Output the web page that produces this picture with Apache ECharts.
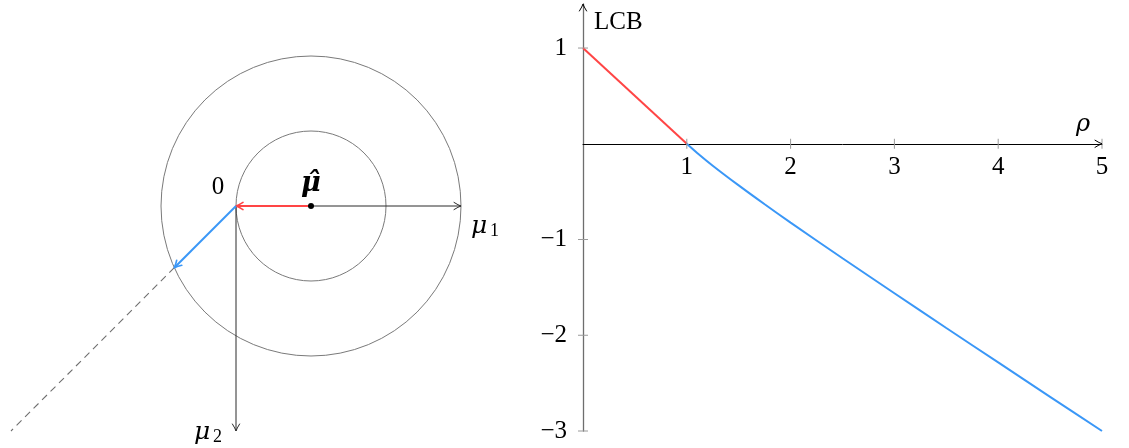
<!DOCTYPE html>
<html>
<head>
<meta charset="utf-8">
<script src="https://cdn.jsdelivr.net/npm/echarts@6/dist/echarts.min.js"></script>
<style>
  html, body { margin: 0; padding: 0; background: #fff; }
  #chart { width: 1129px; height: 448px; }
</style>
</head>
<body>
<div id="chart"></div>
<script>
// ---- LCB as a function of rho ----
const rhoRed = [0, 1];
const lcbRed = [1, 0];
const rhoBlue = [1, 1.1, 1.25, 1.5, 1.75, 2, 2.5, 3, 3.5, 4, 4.5, 5];
const lcbBlue = [0, -0.096, -0.229, -0.435, -0.632, -0.823, -1.196, -1.561, -1.924, -2.284, -2.643, -3.0];
const xTickValues = [1, 2, 3, 4, 5];
const yTickValues = [-3, -2, -1, 1];

// ---- mean-space sketch (mu1 to the right, mu2 downwards) ----
const origin = [0, 0];
const muHat = [1, 0];
const innerRadius = 1;
const outerRadius = 2;
const mu1AxisEnd = [3, 0];
const mu2AxisEnd = [0, 3];
const blueTip = [-0.823, 0.823];
const dashEnd = [-3, 3];

const FONT = "'Liberation Serif', 'DejaVu Serif', serif";
const GREEK = "'DejaVu Serif', serif";
const RED = '#ff4545';
const BLUE = '#3a97f7';
const GRAY = '#7a7a7a';
const DARK = '#2b2b2b';

const minus = v => (v < 0 ? '\u2212' + (-v) : String(v));

// open LaTeX-like arrow tip at `tip`, pointing away from `from`
function arrowHead(tip, from, color, lw, len, half) {
  len = len || 7; half = half || 3.6;
  const dx = tip[0] - from[0], dy = tip[1] - from[1];
  const L = Math.hypot(dx, dy) || 1;
  const ux = dx / L, uy = dy / L, px = -uy, py = ux;
  const b1 = [tip[0] - ux * len + px * half, tip[1] - uy * len + py * half];
  const b2 = [tip[0] - ux * len - px * half, tip[1] - uy * len - py * half];
  const c1 = [tip[0] - ux * len * 0.35 + px * half * 0.2, tip[1] - uy * len * 0.35 + py * half * 0.2];
  const c2 = [tip[0] - ux * len * 0.35 - px * half * 0.2, tip[1] - uy * len * 0.35 - py * half * 0.2];
  return {
    type: 'path',
    shape: {
      pathData: `M${b1[0]},${b1[1]} Q${c1[0]},${c1[1]} ${tip[0]},${tip[1]} Q${c2[0]},${c2[1]} ${b2[0]},${b2[1]}`
    },
    style: { stroke: color, lineWidth: lw, fill: null, lineCap: 'round', lineJoin: 'round' }
  };
}

function seg(a, b, color, lw, dash) {
  return {
    type: 'line',
    shape: { x1: a[0], y1: a[1], x2: b[0], y2: b[1] },
    style: { stroke: color, lineWidth: lw, lineDash: dash || null }
  };
}

function txt(x, y, s, size, opts) {
  opts = opts || {};
  return {
    type: 'text',
    x: x, y: y,
    style: {
      text: s,
      font: `${opts.style || 'normal'} ${opts.weight || 'normal'} ${size}px ${opts.family || FONT}`,
      fill: '#000',
      align: opts.align || 'center',
      verticalAlign: opts.valign || 'middle'
    }
  };
}

function renderSketch(params, api) {
  const o = api.coord(origin);
  const m = api.coord(muHat);
  const e1 = api.coord(mu1AxisEnd);
  const e2 = api.coord(mu2AxisEnd);
  const bt = api.coord(blueTip);
  const de = api.coord(dashEnd);
  const rIn = api.size([innerRadius, 0])[0];
  const rOut = api.size([outerRadius, 0])[0];
  return {
    type: 'group',
    children: [
      { type: 'circle', shape: { cx: m[0], cy: m[1], r: rIn }, style: { stroke: GRAY, lineWidth: 1, fill: null } },
      { type: 'circle', shape: { cx: m[0], cy: m[1], r: rOut }, style: { stroke: GRAY, lineWidth: 1, fill: null } },
      seg(bt, de, '#6f6f6f', 1.1, [7, 5]),
      seg(o, e1, DARK, 1),
      arrowHead(e1, o, DARK, 1),
      seg(o, e2, DARK, 1),
      arrowHead(e2, o, DARK, 1),
      seg(m, o, RED, 2),
      arrowHead(o, m, RED, 1.6),
      seg(o, bt, BLUE, 2),
      arrowHead(bt, o, BLUE, 1.6),
      { type: 'circle', shape: { cx: m[0], cy: m[1], r: 3 }, style: { fill: '#000' } },
      txt(o[0] - 18, o[1] - 19, '0', 25),
      txt(m[0], m[1] - 22, '\u03bc\u0302', 27, { style: 'italic', weight: 'bold', family: GREEK }),
      txt(e1[0] + 10, e1[1] + 20, '\u03bc', 25, { style: 'italic', align: 'left', family: GREEK }),
      txt(e1[0] + 29, e1[1] + 25, '1', 18, { align: 'left' }),
      txt(e2[0] - 42, e2[1] + 1, '\u03bc', 25, { style: 'italic', align: 'left', family: GREEK }),
      txt(e2[0] - 23, e2[1] + 6, '2', 18, { align: 'left' })
    ]
  };
}

function renderPlotDecor(params, api) {
  const children = [];
  xTickValues.forEach(v => {
    const p = api.coord([v, 0]);
    children.push(seg([p[0], p[1] - 5], [p[0], p[1] + 5], '#9a9a9a', 1));
    children.push(txt(p[0], p[1] + 24, minus(v), 25));
  });
  yTickValues.forEach(v => {
    const p = api.coord([0, v]);
    children.push(seg([p[0] - 5, p[1]], [p[0] + 5, p[1]], '#9a9a9a', 1));
  });
  const xEnd = api.coord([5, 0]);
  const x0 = api.coord([0, 0]);
  const yTop = api.coord([0, 1.46]);
  children.push(arrowHead(xEnd, x0, '#000', 1));
  children.push(arrowHead(yTop, x0, '#000', 1));
  children.push(txt(yTop[0] + 11, yTop[1] + 18, 'LCB', 25, { align: 'left' }));
  children.push(txt(xEnd[0] - 19, xEnd[1] - 19, '\u03c1', 24, { style: 'italic', family: GREEK }));
  return { type: 'group', children };
}

const chart = echarts.init(document.getElementById('chart'), null, { renderer: 'canvas' });

chart.setOption({
  animation: false,
  backgroundColor: '#fff',
  grid: [
    { left: 11, top: 41, width: 465, height: 405, outerBoundsMode: 'none', containLabel: false },
    { left: 583, top: 4, width: 519, height: 427, outerBoundsMode: 'none', containLabel: false }
  ],
  xAxis: [
    { gridIndex: 0, type: 'value', min: -3, max: 3.2, show: false },
    {
      gridIndex: 1, type: 'value', min: 0, max: 5, interval: 1,
      axisLine: { onZero: true, lineStyle: { color: '#000', width: 1 } },
      axisTick: { show: false },
      splitLine: { show: false },
      axisLabel: { show: false }
    }
  ],
  yAxis: [
    { gridIndex: 0, type: 'value', min: -2.2, max: 3.2, inverse: true, show: false },
    {
      gridIndex: 1, type: 'value', min: -3, max: 1.46, interval: 1,
      axisLine: { show: true, onZero: false, lineStyle: { color: '#6e6e6e', width: 1.3 } },
      axisTick: { show: false },
      splitLine: { show: false },
      axisLabel: {
        customValues: yTickValues,
        margin: 16,
        fontFamily: FONT, fontSize: 25, color: '#000',
        formatter: minus
      }
    }
  ],
  series: [
    {
      type: 'custom', xAxisIndex: 0, yAxisIndex: 0,
      data: [muHat], renderItem: renderSketch, silent: true
    },
    {
      type: 'line', xAxisIndex: 1, yAxisIndex: 1,
      data: rhoRed.map((r, i) => [r, lcbRed[i]]),
      showSymbol: false, lineStyle: { color: RED, width: 2 }, silent: true
    },
    {
      type: 'line', xAxisIndex: 1, yAxisIndex: 1,
      data: rhoBlue.map((r, i) => [r, lcbBlue[i]]),
      showSymbol: false, smooth: 0.3, lineStyle: { color: BLUE, width: 2 }, silent: true
    },
    {
      type: 'custom', xAxisIndex: 1, yAxisIndex: 1,
      data: [[0, 0]], renderItem: renderPlotDecor, silent: true, clip: false, z: 5
    }
  ]
});
</script>
</body>
</html>
